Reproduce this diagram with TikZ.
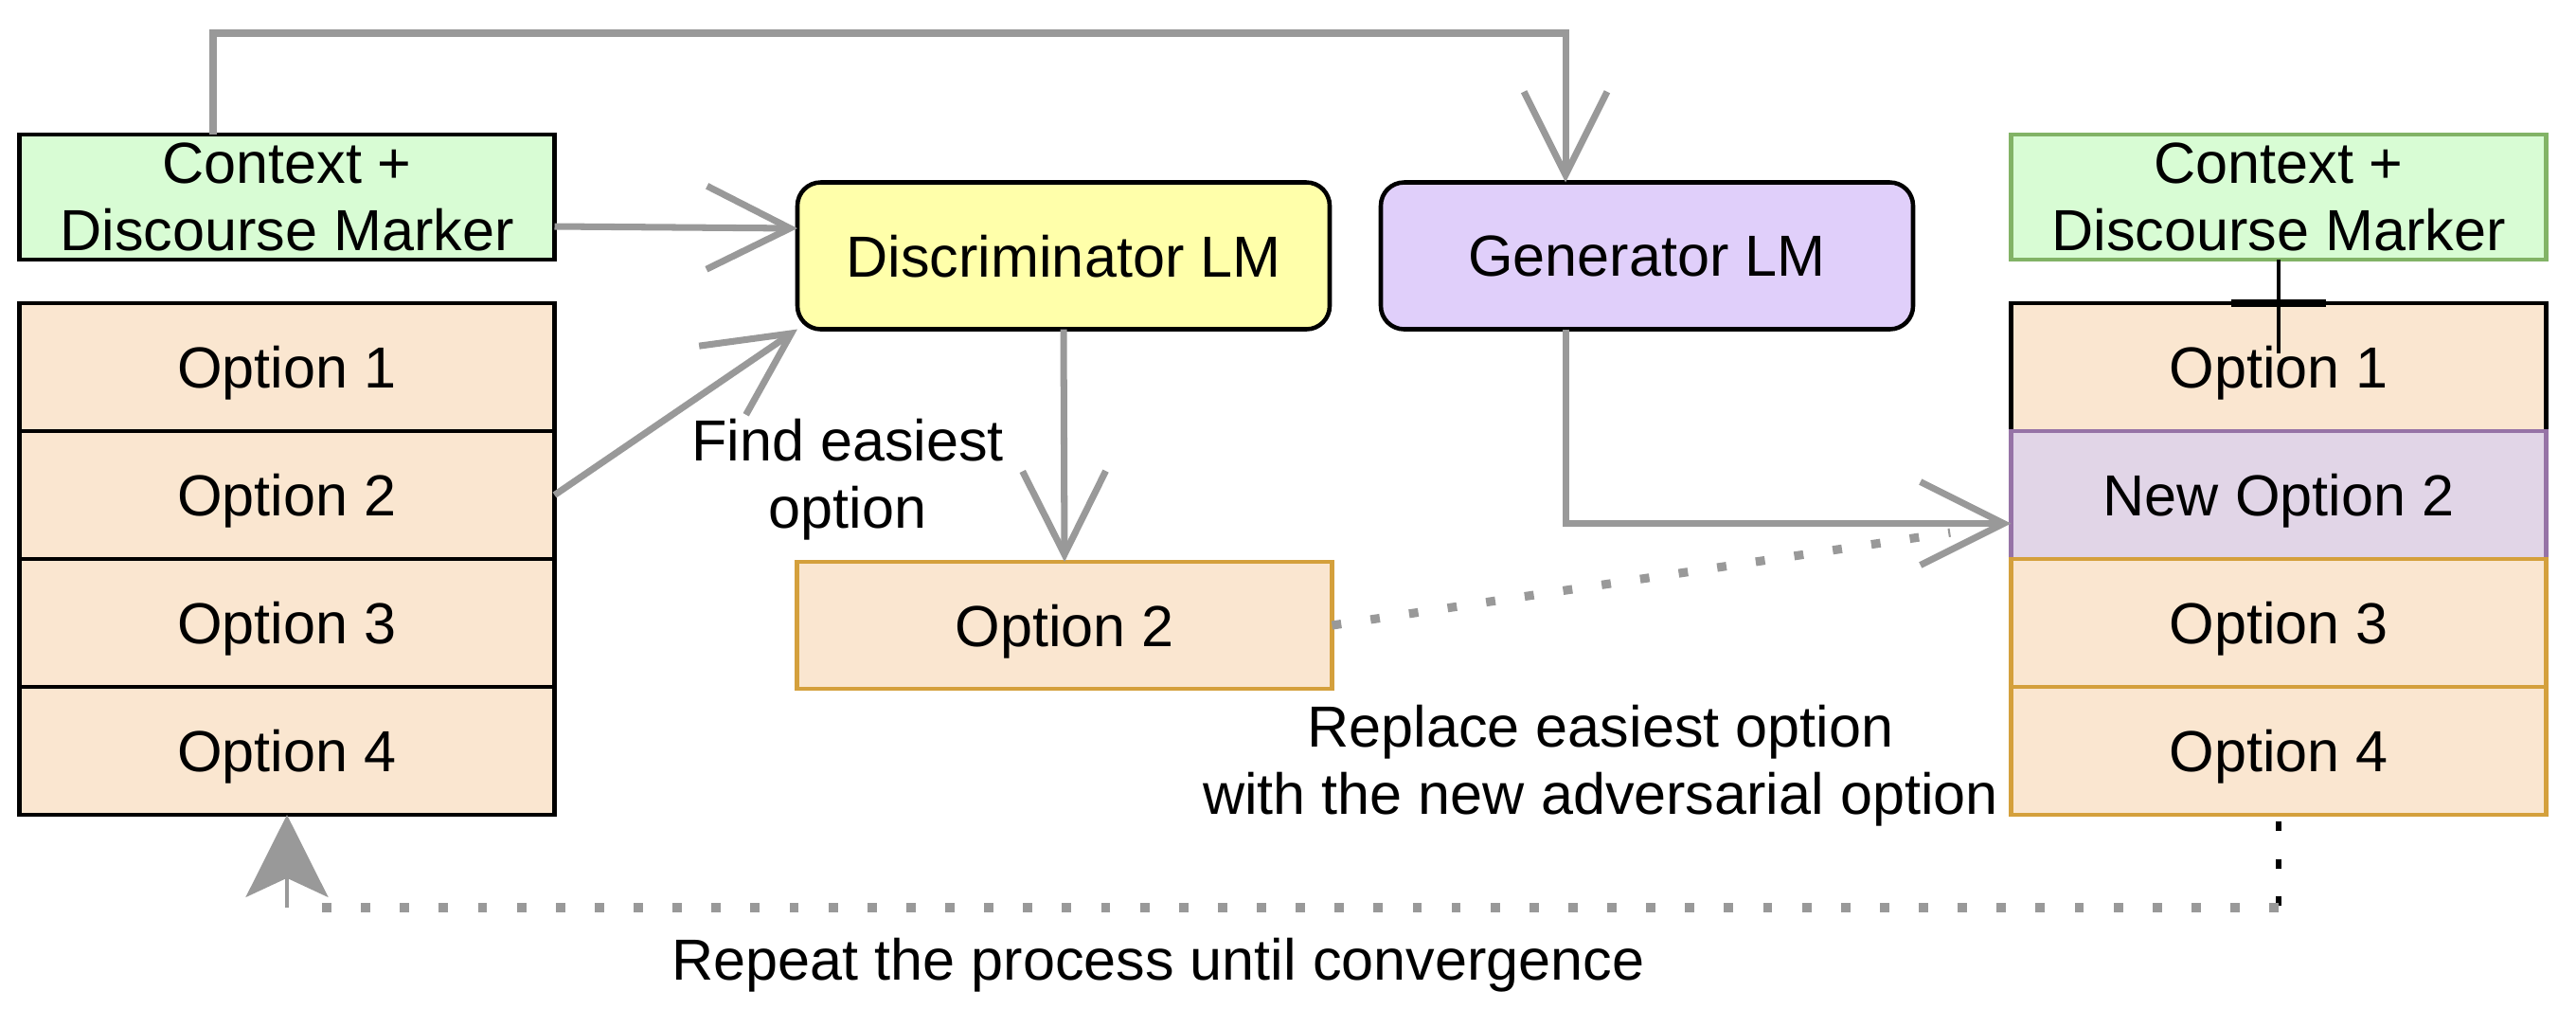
\documentclass[tikz,border=0pt]{standalone}
\usepackage{fontspec}
\setmainfont{Liberation Sans}
\usetikzlibrary{positioning}
\usetikzlibrary{arrows.meta}

\definecolor{ctxgreen}{RGB}{216,252,212}
\definecolor{ctxline}{RGB}{130,179,102}
\definecolor{optfill}{RGB}{250,230,208}
\definecolor{optline}{RGB}{212,160,60}
\definecolor{discfill}{RGB}{255,255,170}
\definecolor{genfill}{RGB}{224,207,250}
\definecolor{newfill}{RGB}{225,213,231}
\definecolor{newline}{RGB}{150,115,166}
\definecolor{flowgray}{RGB}{153,153,153}

\begin{document}
\begin{tikzpicture}[every node/.style={font=\fontsize{17.4pt}{20.3pt}\selectfont,inner sep=0pt,outer sep=0pt,align=center},
  box/.style={draw,line width=1.3pt,minimum width=5.65cm,minimum height=1.35cm},
  ctx/.style={box,fill=ctxgreen,minimum height=1.32cm},
  opt/.style={box,fill=optfill,text depth=0pt},
  lm/.style={draw,line width=1.3pt,rounded corners=7pt,minimum width=5.62cm,minimum height=1.55cm,text depth=0pt},
  flow/.style={draw=flowgray,line width=2pt,-{Straight Barb[length=25pt,width=25pt]}},
  dotflow/.style={draw=flowgray,line width=2.6pt,dash pattern=on 2.8pt off 8.9pt},
  loopback/.style={draw=flowgray,line width=1.4pt,-{Stealth[length=24.7pt,width=24.7pt,inset=5.7pt]}}]
  \useasboundingbox (0,0) rectangle (27.2,-10.64);

  % left: original question
  \node[ctx] (ctxL) at (3.03,-2.08) {Context +\\Discourse Marker};
  \node[opt] (optL1) at (3.03,-3.875) {Option 1};
  \node[opt,below=0pt of optL1] (optL2) {Option 2};
  \node[opt,below=0pt of optL2] (optL3) {Option 3};
  \node[opt,below=0pt of optL3] (optL4) {Option 4};

  % models
  \node[lm,fill=discfill] (disc) at (11.23,-2.70) {Discriminator LM};
  \node[lm,fill=genfill] (gen) at (17.39,-2.70) {Generator LM};
  \node[opt,draw=optline,minimum height=1.34cm] (opt2mid) at (11.24,-6.60) {Option 2};

  % right: new question
  \node[ctx,draw=ctxline] (ctxR) at (24.06,-2.08) {Context +\\Discourse Marker};
  \node[opt] (optR1) at (24.06,-3.875) {Option 1};
  \node[box,fill=newfill,draw=newline,text depth=0pt,below=0pt of optR1] (newR2) {New Option 2};
  \node[opt,draw=optline,below=0pt of newR2] (optR3) {Option 3};
  \node[opt,draw=optline,below=0pt of optR3] (optR4) {Option 4};

  \node (findlbl) at (8.95,-5.06) {Find easiest\\option};
  \node (repllbl) at (16.90,-8.08) {Replace easiest option\\with the new adversarial option};
  \node (repeatlbl) at (12.23,-10.19) {Repeat the process until convergence};

  \coordinate (tee) at ([yshift=-5.3mm]optR1.north);
  \coordinate (loopR) at ([yshift=-9.8mm]optR4.south);
  \coordinate (loopL) at (optL4.south |- loopR);

  \draw[flow] ([xshift=-7.8mm]ctxL.north) -- ++(0,1.07) -| ([xshift=-8.6mm]gen.north);
  \draw[flow] ([yshift=-3.1mm]ctxL.east) -- ([yshift=2.9mm]disc.west);
  \draw[flow] (optL2.east) -- (disc.south west);
  \draw[flow] (disc.south) -- (opt2mid.north);
  \draw[dotflow,shorten >=6.5mm] (opt2mid.east) -- ([yshift=-3mm]newR2.west);
  \draw[flow] ([xshift=-8.6mm]gen.south) |- ([yshift=-3mm]newR2.west);

  \draw[line width=1.1pt] (ctxR.south) -- (tee);
  \draw[line width=2.5pt] ([xshift=-5mm]optR1.north) -- ([xshift=5mm]optR1.north);

  \draw[line width=1.6pt,dash pattern=on 2.8pt off 8.5pt,dash phase=-2pt] (optR4.south) -- (loopR);
  \draw[dotflow] (loopR) -- ([xshift=2.4mm]loopL);
  \draw[loopback] (loopL) -- (optL4.south);
\end{tikzpicture}
\end{document}
